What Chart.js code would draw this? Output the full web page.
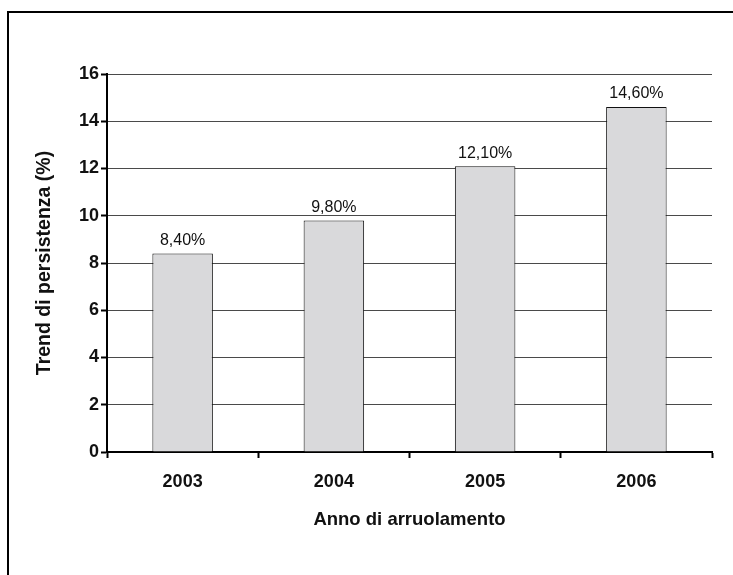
<!DOCTYPE html>
<html>
<head>
<meta charset="utf-8">
<script src="https://cdn.jsdelivr.net/npm/chart.js@4.4.0/dist/chart.umd.min.js"></script>
<style>
  html, body { margin: 0; padding: 0; background: #fff; overflow: hidden; }
  #wrap { position: relative; width: 733px; height: 575px; }
  #frame { position: absolute; left: 7px; top: 11px; width: 760px; height: 600px;
           border-top: 2px solid #000; border-left: 2px solid #000; }
  #bar-chart { position: absolute; left: 0; top: 0; }
</style>
</head>
<body>
<div id="wrap">
  <div id="frame"></div>
  <canvas id="bar-chart" width="733" height="575"></canvas>
</div>
<script>
var years = ['2003', '2004', '2005', '2006'];
var persistence = [8.4, 9.8, 12.1, 14.6];
var yTicks = [0, 2, 4, 6, 8, 10, 12, 14, 16];

var fontFamily = '"Liberation Sans", Arial, Helvetica, sans-serif';

// writes "8,40%" style labels above each bar
var valueLabels = {
    id: 'valueLabels',
    afterDatasetsDraw: function (chart) {
        var ctx = chart.ctx;
        var meta = chart.getDatasetMeta(0);
        ctx.save();
        ctx.font = '16px ' + fontFamily;
        ctx.fillStyle = '#111';
        ctx.textAlign = 'center';
        ctx.textBaseline = 'bottom';
        meta.data.forEach(function (bar, i) {
            var v = chart.data.datasets[0].data[i];
            var txt = v.toFixed(2).replace('.', ',') + '%';
            ctx.fillText(txt, bar.x, bar.y - 5);
        });
        ctx.restore();
    }
};

var canvas = document.getElementById('bar-chart');

var chart = new Chart(canvas, {
    type: 'bar',
    data: {
        labels: years,
        datasets: [{
            data: persistence,
            backgroundColor: '#d9d9db',
            borderColor: '#111',
            borderWidth: 1,
            barPercentage: 0.4,
            categoryPercentage: 1.0
        }]
    },
    options: {
        responsive: false,
        animation: false,
        layout: { padding: { left: 0, top: 74, right: 21, bottom: 44 } },
        plugins: {
            legend: { display: false },
            tooltip: { enabled: false }
        },
        scales: {
            x: {
                offset: true,
                grid: {
                    offset: true,
                    drawOnChartArea: false,
                    tickLength: 6,
                    tickColor: '#000',
                    tickWidth: 2
                },
                border: { color: '#000', width: 2 },
                ticks: {
                    color: '#111',
                    padding: 13,
                    font: { family: fontFamily, size: 18, weight: 'bold' }
                },
                title: {
                    display: true,
                    text: 'Anno di arruolamento',
                    color: '#111',
                    padding: { top: 0, bottom: 0 },
                    font: { family: fontFamily, size: 18.5, weight: 'bold' }
                },
                afterFit: function (scale) { scale.height = 79; }
            },
            y: {
                min: 0,
                max: 16,
                afterBuildTicks: function (scale) {
                    scale.ticks = yTicks.map(function (v) { return { value: v }; });
                },
                grid: {
                    color: '#4a4a4a',
                    lineWidth: 1,
                    tickLength: 6,
                    tickColor: '#000',
                    tickWidth: 2
                },
                border: { color: '#000', width: 2 },
                ticks: {
                    color: '#111',
                    padding: 2,
                    font: { family: fontFamily, size: 18, weight: 'bold' }
                },
                title: {
                    display: true,
                    text: 'Trend di persistenza (%)',
                    color: '#111',
                    padding: { top: 33, bottom: 0 },
                    font: { family: fontFamily, size: 19.5, weight: 'bold' }
                },
                afterFit: function (scale) { scale.width = 107; }
            }
        }
    },
    plugins: [valueLabels]
});
</script>
</body>
</html>
